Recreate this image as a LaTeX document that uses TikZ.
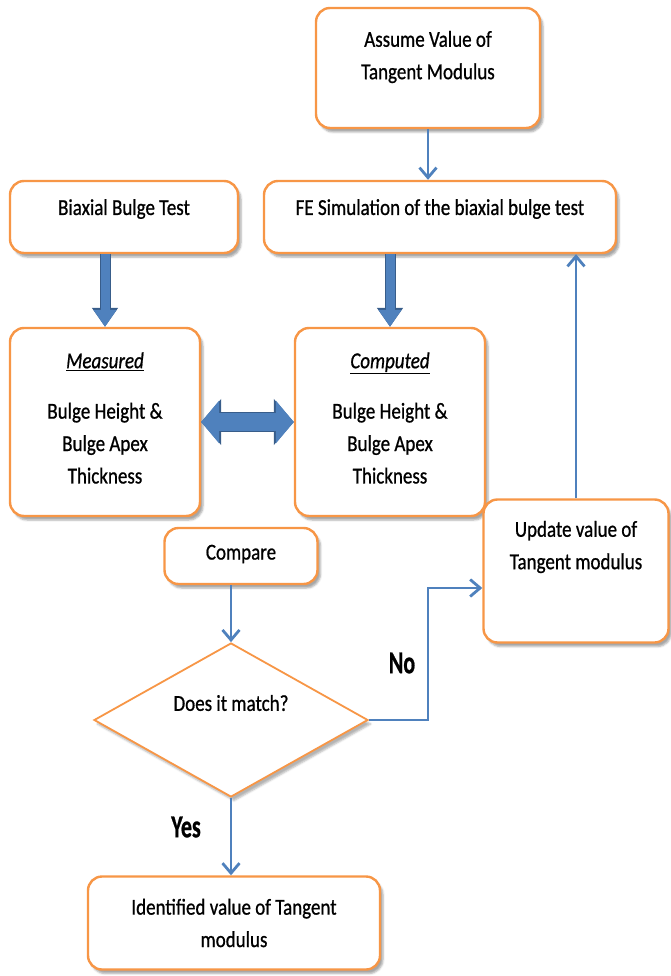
\documentclass[tikz,border=0pt]{standalone}
\usepackage{fontspec}
\setmainfont{Carlito}
\newfontfamily\heavyfont[FakeBold=0.9]{Carlito}
\usetikzlibrary{arrows.meta,shapes.geometric,shadows.blur}
\definecolor{boxorange}{HTML}{F79646}
\definecolor{flowblue}{HTML}{4F81BD}
\definecolor{flowdark}{HTML}{385D8A}
\begin{document}
\begin{tikzpicture}[x=1pt, y=-1pt,
	box/.style={draw=boxorange, line width=2.4pt, fill=white, rounded corners=14pt,
		blur shadow={shadow xshift=3pt, shadow yshift=-4pt, shadow opacity=35}},
	txt/.style={align=center, font=\heavyfont\fontsize{19}{27}\selectfont, yscale=1.2},
	lbl/.style={font=\heavyfont\bfseries\fontsize{22}{25}\selectfont, yscale=1.45},
	flow/.style={draw=flowblue, line width=2.8pt, -{Straight Barb[length=10pt,width=17pt]}},
	fat/.style={draw=flowblue, line width=9pt, -{Triangle[length=17pt,width=22pt]},
		preaction={draw=flowdark, line width=11pt, -{Triangle[length=19pt,width=25pt]}}},
	dfat/.style={draw=flowblue, line width=18pt, {Triangle[length=18pt,width=42pt]}-{Triangle[length=18pt,width=42pt]},
		preaction={draw=flowdark, line width=20pt, {Triangle[length=20pt,width=45pt]}-{Triangle[length=20pt,width=45pt]}}}]
	\useasboundingbox (0,0) rectangle (670,976);

	%boxes
	\node[box, minimum width=224pt, minimum height=120pt] (assume) at (428,68) {};
	\node[box, minimum width=228pt, minimum height=72pt] (biaxial) at (124,217) {};
	\node[box, minimum width=352pt, minimum height=72pt] (fe) at (440,217) {};
	\node[box, minimum width=190pt, minimum height=188pt] (measured) at (105,422) {};
	\node[box, minimum width=190pt, minimum height=188pt] (computed) at (390,422) {};
	\node[box, minimum width=185pt, minimum height=143pt] (update) at (576,571) {};
	\node[box, minimum width=153pt, minimum height=56pt] (compare) at (241,556) {};
	\node[diamond, draw=boxorange, line width=1.8pt, fill=white, inner sep=0pt,
		minimum width=274pt, minimum height=154pt,
		blur shadow={shadow xshift=3pt, shadow yshift=-4pt, shadow opacity=30}] (match) at (231,720) {};
	\node[box, minimum width=292pt, minimum height=93pt] (identified) at (234,923) {};

	%texts
	\node[txt] at (428,57) {Assume Value of\\Tangent Modulus};
	\node[txt] at (124,209) {Biaxial Bulge Test};
	\node[txt] at (440,209) {FE Simulation of the biaxial bulge test};
	\node[txt] at (105,418) {\underline{\textit{Measured}}\\[15pt]Bulge Height \&\\Bulge Apex\\Thickness};
	\node[txt] at (390,418) {\underline{\textit{Computed}}\\[15pt]Bulge Height \&\\Bulge Apex\\Thickness};
	\node[txt] at (576,547) {Update value of\\Tangent modulus};
	\node[txt] at (241,554) {Compare};
	\node[txt] at (231,703) {Does it match?};
	\node[txt] at (234,923) {Identified value of Tangent\\modulus};
	\node[lbl] at (402,663) {No};
	\node[lbl] at (186,827) {Yes};

	%arrows
	\draw[flow] (assume.south) -- (assume.south |- fe.north);
	\draw[fat] (measured.north |- biaxial.south) -- (measured.north);
	\draw[fat] (computed.north |- fe.south) -- (computed.north);
	\draw[dfat] (measured.east) -- (computed.west);
	\draw[flow] (update.north) -- (update.north |- fe.south);
	\draw[flow] (match.north |- compare.south) -- (match.north);
	\coordinate (bend) at (428,588);
	\draw[flow] (match.east) -| (bend) -- (bend -| update.west);
	\draw[flow] (match.south) -- (match.south |- identified.north);
\end{tikzpicture}
\end{document}
